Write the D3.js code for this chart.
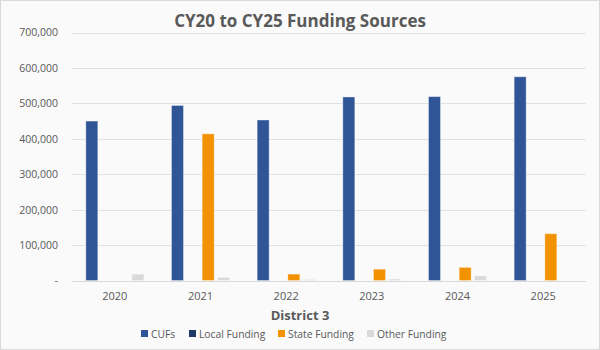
<!DOCTYPE html>
<html>
<head>
<meta charset="utf-8">
<script src="https://cdn.jsdelivr.net/npm/d3@7"></script>
<style>
  html, body { margin: 0; padding: 0; background: #fff; }
  svg { display: block; }
  text { font-family: "Open Sans", Lato, sans-serif; fill: #595959; }
</style>
</head>
<body>
<svg id="chart" width="600" height="350"></svg>
<script>
const years = ["2020", "2021", "2022", "2023", "2024", "2025"];
const seriesNames = ["CUFs", "Local Funding", "State Funding", "Other Funding"];
const cufs = [450000, 494000, 453000, 518000, 519000, 575000];
const localFunding = [0, 0, 0, 0, 0, 0];
const stateFunding = [0, 414000, 18000, 32000, 37000, 132000];
const otherFunding = [18000, 9000, 3000, 4000, 13000, 0];
const yTicks = [0, 100000, 200000, 300000, 400000, 500000, 600000, 700000];
const colors = ["#2F5597", "#203864", "#F39200", "#D9D9D9"];

const seriesValues = [cufs, localFunding, stateFunding, otherFunding];
const W = 600, H = 350;
const margin = { left: 72, right: 14, top: 32, bottom: 69 };
const svg = d3.select("#chart");

svg.append("rect").attr("x", 0.5).attr("y", 0.5).attr("width", W - 1).attr("height", H - 1)
  .attr("fill", "#fafafa").attr("stroke", "#d9d9d9");

const y = d3.scaleLinear().domain([0, 700000]).range([H - margin.bottom - 0.5, margin.top + 0.5]);
const x0 = d3.scaleBand().domain(years).range([margin.left, W - margin.right])
  .paddingInner(0.323).paddingOuter(0.1615);
const x1 = d3.scaleBand().domain(seriesNames).range([0, x0.bandwidth()]).paddingInner(0.22);

// gridlines
svg.append("g").selectAll("line").data(yTicks.filter(d => d > 0)).join("line")
  .attr("x1", margin.left).attr("x2", W - margin.right)
  .attr("y1", d => Math.round(y(d)) + 0.5).attr("y2", d => Math.round(y(d)) + 0.5)
  .attr("stroke", "#e2e2e2").attr("stroke-width", 1);

// y axis labels
const yAxis = d3.axisLeft(y).tickValues(yTicks).tickSize(0).tickPadding(14)
  .tickFormat(d => d === 0 ? "-" : d3.format(",")(d));
const gy = svg.append("g").attr("transform", `translate(${margin.left},0)`).call(yAxis);
gy.select(".domain").remove();
gy.selectAll("text").attr("font-size", 10.5).style("fill", "#595959")
  .style("font-family", "'Open Sans', sans-serif");

// bars
const data = years.map((yr, i) => ({ yr, vals: seriesNames.map((s, j) => ({ s, j, v: seriesValues[j][i] })) }));
const groups = svg.append("g").selectAll("g").data(data).join("g")
  .attr("transform", d => `translate(${x0(d.yr)},0)`);
groups.selectAll("rect").data(d => d.vals.filter(v => v.v > 0)).join("rect")
  .attr("x", d => x1(d.s))
  .attr("width", x1.bandwidth())
  .attr("y", d => y(d.v))
  .attr("height", d => y(0) - y(d.v))
  .attr("fill", d => colors[d.j])
  .attr("stroke", "#ffffff").attr("stroke-opacity", 0.35).attr("stroke-width", 1);

// x axis
const xAxis = d3.axisBottom(x0).tickSize(0).tickPadding(11);
const gx = svg.append("g").attr("transform", `translate(0,${Math.round(y(0)) + 0.5})`).call(xAxis);
gx.select(".domain").attr("stroke", "#d9d9d9").attr("d", `M${margin.left},0H${W - margin.right}`);
gx.selectAll("text").attr("font-size", 11).style("fill", "#595959")
  .style("font-family", "'Open Sans', sans-serif");

// title
svg.append("text").attr("x", 300).attr("y", 27).attr("text-anchor", "middle")
  .attr("font-size", 17).attr("font-weight", "bold").text("CY20 to CY25 Funding Sources");

// x axis title
svg.append("text").attr("x", 300).attr("y", 320).attr("text-anchor", "middle")
  .attr("font-size", 13).attr("font-weight", "bold").text("District 3");

// legend
const legendX = [141, 189, 278, 367];
const lg = svg.append("g").selectAll("g").data(seriesNames).join("g")
  .attr("transform", (d, i) => `translate(${legendX[i]},334)`);
lg.append("rect").attr("x", 0).attr("y", -4).attr("width", 7).attr("height", 7)
  .attr("fill", (d, i) => colors[i]);
lg.append("text").attr("x", 10).attr("y", 0).attr("dy", "0.35em")
  .attr("font-size", 10.3).text(d => d);
</script>
</body>
</html>
